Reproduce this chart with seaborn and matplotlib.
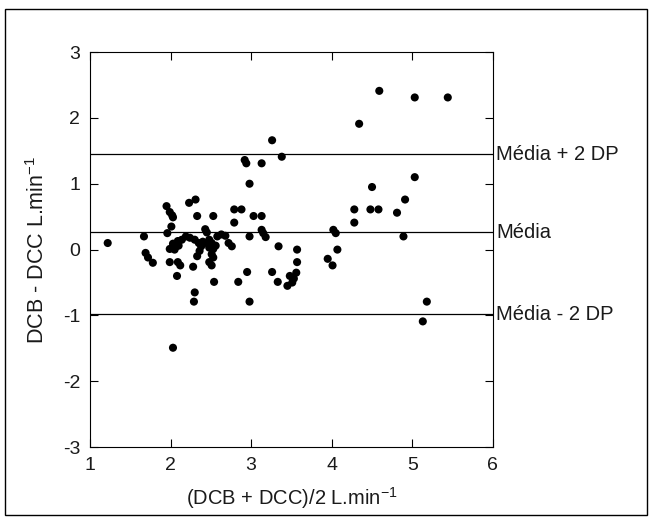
import numpy as np
import pandas as pd
import matplotlib
matplotlib.use('Agg')
import matplotlib.pyplot as plt
import matplotlib.patches as patches
import seaborn as sb

# mean of the two methods (x) and their difference (y)
media_x = [1.22, 1.67, 1.69, 1.72, 1.78, 1.95, 1.99, 2.02, 2.03, 1.96, 2.01, 1.99, 1.99, 2.09, 2.12,
           2.08, 2.03, 2.23, 2.31, 2.33, 2.28, 2.30, 2.29, 2.33, 2.03, 2.07, 2.09, 2.14, 2.19,
           2.24, 2.30, 2.35, 2.38, 2.43, 2.45, 2.48, 2.51, 2.48, 2.53, 2.51, 2.53, 2.48, 2.51,
           2.53, 2.54, 2.56, 2.58, 2.63, 2.68, 2.72, 2.76, 2.79, 2.79, 2.88, 2.84, 2.92, 2.94,
           2.98, 2.95, 2.98, 2.98, 3.03, 3.13, 3.13, 3.13, 3.15, 3.18, 3.26, 3.26, 3.34, 3.33,
           3.38, 3.45, 3.48, 3.51, 3.53, 3.56, 3.57, 3.57, 3.95, 4.01, 4.02, 4.05, 4.07, 4.28,
           4.28, 4.34, 4.50, 4.48, 4.58, 4.59, 4.81, 4.89, 4.91, 5.03, 5.03, 5.44, 5.18, 5.13,
           2.05, 2.10, 2.40, 2.47, 2.36]
dif_y = [0.10, 0.20, -0.05, -0.12, -0.20, 0.66, 0.57, 0.52, 0.49, 0.25, 0.35, 0.01, -0.19, -0.19, -0.24,
         -0.40, -1.49, 0.71, 0.76, 0.51, -0.26, -0.65, -0.79, -0.10, 0.09, 0.05, 0.13, 0.15, 0.20,
         0.18, 0.15, 0.10, 0.05, 0.31, 0.26, 0.15, 0.10, 0.03, 0.01, -0.07, -0.12, -0.19, -0.24,
         0.51, -0.49, 0.06, 0.20, 0.23, 0.21, 0.10, 0.05, 0.41, 0.61, 0.61, -0.49, 1.36, 1.31,
         1.00, -0.34, 0.20, -0.79, 0.51, 0.51, 1.31, 0.30, 0.25, 0.19, 1.66, -0.34, 0.05, -0.49,
         1.41, -0.55, -0.40, -0.50, -0.44, -0.35, -0.19, 0.00, -0.14, -0.24, 0.30, 0.25, 0.00, 0.61,
         0.41, 1.91, 0.95, 0.61, 0.61, 2.41, 0.56, 0.20, 0.76, 1.10, 2.31, 2.31, -0.79, -1.09,
         0.00, 0.06, 0.12, 0.08, -0.02]

limites = [1.45, 0.26, -0.98]
rotulos = ['Média + 2 DP', 'Média', 'Média - 2 DP']

df = pd.DataFrame({'x': media_x, 'y': dif_y})

sb.set_style('ticks')
plt.rcParams['font.family'] = ['Liberation Sans', 'DejaVu Sans']
plt.rcParams['mathtext.fontset'] = 'custom'
plt.rcParams['mathtext.rm'] = 'Liberation Sans'
plt.rcParams['axes.unicode_minus'] = False

fig = plt.figure(figsize=(6.52, 5.2), dpi=100)
ax = fig.add_axes([0.138, 0.140, 0.618, 0.760])

sb.scatterplot(data=df, x='x', y='y', color='black', s=34, edgecolor='none', ax=ax)

for val, txt in zip(limites, rotulos):
    ax.axhline(val, color='black', lw=0.9)
    ax.text(1.008, val, txt, transform=ax.get_yaxis_transform(), va='center', ha='left',
            fontsize=14.5, color='#1a1a1a')

ax.set_xlim(1, 6)
ax.set_ylim(-3, 3)
ax.set_xticks([1, 2, 3, 4, 5, 6])
ax.set_yticks([-3, -2, -1, 0, 1, 2, 3])
ax.tick_params(direction='in', length=6, width=0.8, top=True, right=True, labelsize=14,
               colors='black', labelcolor='#1a1a1a', pad=7)
for sp in ax.spines.values():
    sp.set_color('black')
    sp.set_linewidth(0.8)

ax.set_xlabel(r'(DCB + DCC)/2 L.min$^{\mathregular{-1}}$', fontsize=14.5, labelpad=8,
              color='#1a1a1a')
ax.set_ylabel(r'DCB - DCC L.min$^{\mathregular{-1}}$', fontsize=15.5, labelpad=10,
              color='#1a1a1a')

# moldura em volta da figura
fig.patches.append(patches.Rectangle((5 / 652, 5 / 520), 642 / 652, 506 / 520, fill=False,
                                     edgecolor='black', lw=1, transform=fig.transFigure))

fig.savefig('out.png', dpi=100)
